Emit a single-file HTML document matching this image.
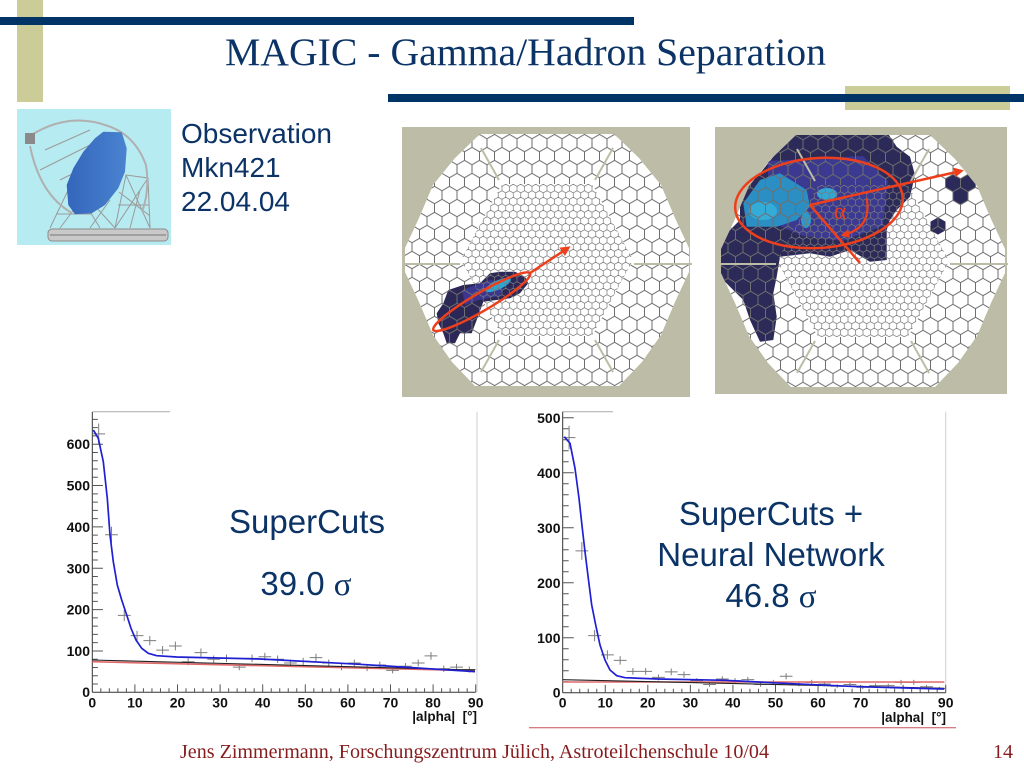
<!DOCTYPE html>
<html><head><meta charset="utf-8">
<style>html,body{margin:0;padding:0;background:#fff;width:1024px;height:768px;overflow:hidden}svg{display:block}</style>
</head><body>
<svg width="1024" height="768" viewBox="0 0 1024 768" xmlns="http://www.w3.org/2000/svg">
<defs>
<pattern id="hb" patternUnits="userSpaceOnUse" x="0" y="0" width="15" height="25.98">
<path d="M0,-8.66l7.5,4.33v8.66l-7.5,4.33l-7.5,-4.33v-8.66zM15,-8.66l7.5,4.33v8.66l-7.5,4.33l-7.5,-4.33v-8.66zM0,17.32l7.5,4.33v8.66l-7.5,4.33l-7.5,-4.33v-8.66zM15,17.32l7.5,4.33v8.66l-7.5,4.33l-7.5,-4.33v-8.66zM7.5,4.33l7.5,4.33v8.66l-7.5,4.33l-7.5,-4.33v-8.66z" fill="none" stroke="#6e6e6e" stroke-width="1"/>
</pattern>
<pattern id="hs" patternUnits="userSpaceOnUse" x="0" y="0" width="7.5" height="12.99">
<path d="M0,-4.33l3.75,2.165v4.33l-3.75,2.165l-3.75,-2.165v-4.33zM7.5,-4.33l3.75,2.165v4.33l-3.75,2.165l-3.75,-2.165v-4.33zM0,8.66l3.75,2.165v4.33l-3.75,2.165l-3.75,-2.165v-4.33zM7.5,8.66l3.75,2.165v4.33l-3.75,2.165l-3.75,-2.165v-4.33zM3.75,2.165l3.75,2.165v4.33l-3.75,2.165l-3.75,-2.165v-4.33z" fill="none" stroke="#7a7a7a" stroke-width="0.7"/>
</pattern>
<clipPath id="co"><polygon points="-67,-126 67,-126 92,-102 114,-75 128,-42 142,-12 142,12 128,42 114,75 95,102 72,126 -72,126 -95,102 -114,75 -128,42 -142,12 -142,-12 -128,-42 -114,-75 -92,-102"/></clipPath>
<marker id="ah" viewBox="0 0 10 10" refX="7" refY="5" markerWidth="4" markerHeight="4" orient="auto" markerUnits="strokeWidth"><path d="M0,0L10,5L0,10z" fill="#ee3f1c"/></marker>
<linearGradient id="dish" x1="0" y1="0" x2="1" y2="0"><stop offset="0" stop-color="#3466bb"/><stop offset="1" stop-color="#4a82d0"/></linearGradient>
</defs>

<!-- header decorations -->
<rect x="17" y="0" width="26" height="102" fill="#cccc99"/>
<rect x="0" y="17" width="634" height="8" fill="#003366"/>
<rect x="845" y="86" width="165" height="24" fill="#cccc99"/>
<rect x="388" y="94" width="636" height="8" fill="#003366"/>
<text x="225" y="65" font-family="Liberation Serif, serif" font-size="39" fill="#0b3366" textLength="601" lengthAdjust="spacingAndGlyphs">MAGIC - Gamma/Hadron Separation</text>

<!-- telescope -->
<rect x="17" y="109" width="154" height="136" fill="#b6ebf1"/>
<g fill="none" stroke="#9a9a9a" stroke-width="1">
<path d="M50,228L72,182L100,228M60,228L85,195L115,228M72,182L85,195M56,214L92,214M115,228L126,175L148,178L150,228M115,228L148,178M126,175L150,228M118,205L149,205M119,192L150,216M45,150L90,130M40,170L100,140M60,180L120,150M90,228L110,200M130,228L140,190"/>
<path d="M33,134Q70,112 108,126Q135,135 146,165Q150,190 142,212" stroke="#b0b0b0" stroke-width="2"/>
<path d="M30,146Q40,195 72,213" stroke="#b0b0b0" stroke-width="2"/>
</g>
<polygon points="103.3,131.7 121.7,132.3 126.7,148.3 125,171.7 118.3,188.3 105,205 91.7,213.3 75,214.3 68.3,205 66.7,185 73.3,168.3 83.3,151.7 95,138.3" fill="url(#dish)"/>
<rect x="25" y="133" width="10" height="11" fill="#8a8a8a"/>
<rect x="48" y="229" width="120" height="12" rx="4" fill="#c9c9c9" stroke="#8a8a8a"/>
<path d="M50,235H166" stroke="#777" stroke-width="1"/>

<text font-family="Liberation Sans, sans-serif" font-size="28" fill="#0b3366"><tspan x="181" y="143">Observation</tspan><tspan x="181" y="177">Mkn421</tspan><tspan x="181" y="211">22.04.04</tspan></text>

<!-- camera 1 -->
<rect x="402" y="127" width="288" height="270" fill="#bdbca6"/>
<g transform="translate(547,260)">
<polygon points="-67,-126 67,-126 92,-102 114,-75 128,-42 142,-12 142,12 128,42 114,75 95,102 72,126 -72,126 -95,102 -114,75 -128,42 -142,12 -142,-12 -128,-42 -114,-75 -92,-102" fill="#fff"/>
<g clip-path="url(#co)">
<polygon points="-98.7,30 -83.7,25 -67,23.3 -57,13.3 -47,11.7 -32,11.7 -22,16.7 -18.7,23.3 -27,33.3 -37,38.3 -50.3,40 -63.7,41.7 -70.3,60 -75.3,73.3 -87,73.3 -92,83.3 -100.3,83.3 -103.7,73.3 -108.7,63.3 -110.3,53.3 -103.7,43.3" fill="#2b2857"/>
<polygon points="-85,30 -57,20 -42,22 -47,36 -69,40 -82,45" fill="#3b3791"/>
<ellipse cx="-49" cy="25" rx="14" ry="4.5" transform="rotate(-25 -49 25)" fill="#2ea6d4"/>
</g>
<path d="M-67,-126L67,-126L92,-102L114,-75L128,-42L142,-12L142,12L128,42L114,75L95,102L72,126L-72,126L-95,102L-114,75L-128,42L-142,12L-142,-12L-128,-42L-114,-75L-92,-102ZM-45,-76L45,-76L86,0L45,76L-45,76L-86,0Z" fill="url(#hb)" fill-rule="evenodd"/>
<polygon points="-45,-76 45,-76 86,0 45,76 -45,76 -86,0" fill="url(#hs)"/>
<path d="M-87,4H-145M87,4H145M-48,-80L-66,-112M48,-80L66,-112M-48,80L-66,112M48,80L66,112" stroke="#bdbca6" stroke-width="2" fill="none"/>
</g>
<ellipse cx="481.7" cy="301.7" rx="56" ry="9" transform="rotate(-30.4 481.7 301.7)" fill="none" stroke="#ee3f1c" stroke-width="2.5"/>
<path d="M530,273L568,248" stroke="#ee3f1c" stroke-width="2.5" marker-end="url(#ah)"/>

<!-- camera 2 -->
<rect x="715" y="127" width="292" height="267" fill="#bdbca6"/>
<g transform="translate(863,261)">
<polygon points="-67,-126 67,-126 92,-102 114,-75 128,-42 142,-12 142,12 128,42 114,75 95,102 72,126 -72,126 -95,102 -114,75 -128,42 -142,12 -142,-12 -128,-42 -114,-75 -92,-102" fill="#fff"/>
<g clip-path="url(#co)">
<polygon points="-67,-129.3 23.7,-129.3 33.7,-114.3 47,-104.3 52,-86 47,-64.3 33.7,-51 27,-41 23.7,-31 23.7,-1 7,0.7 -13,-11 -33,-4.3 -53,-7.7 -83,-4.3 -86.3,15.7 -89.7,32.3 -86.3,55.7 -89.7,79 -103,80.7 -113,59 -119.7,39 -133,25.7 -143,15.7 -143,-21 -133,-31 -123,-41 -123,-74.3 -103,-87.7 -89.7,-104.3 -81.3,-116" fill="#2c2a58"/>
<polygon points="-95,-100 0,-105 25,-80 20,-35 -20,-20 -60,-25 -95,-40" fill="#3b3990"/>
<polygon points="-119.7,-57.7 -103,-81 -83,-87.7 -56.3,-71 -53,-54.3 -66.3,-41 -86.3,-34.3 -116.3,-34.3" fill="#2b8fc4"/>
<ellipse cx="-100" cy="-50" rx="14" ry="9" fill="#35acd8"/>
<ellipse cx="-36" cy="-67" rx="10" ry="6" fill="#33a6d2"/>
<ellipse cx="-57" cy="-41" rx="5" ry="8" fill="#2f98c8"/>
<path d="M90,-86.66l7.5,4.33v8.66l-7.5,4.33l-7.5,-4.33v-8.66zM105,-86.66l7.5,4.33v8.66l-7.5,4.33l-7.5,-4.33v-8.66zM97.5,-73.66l7.5,4.33v8.66l-7.5,4.33l-7.5,-4.33v-8.66zM75,-43.66l7.5,4.33v8.66l-7.5,4.33l-7.5,-4.33v-8.66z" fill="#2c2a58"/>
</g>
<path d="M-67,-126L67,-126L92,-102L114,-75L128,-42L142,-12L142,12L128,42L114,75L95,102L72,126L-72,126L-95,102L-114,75L-128,42L-142,12L-142,-12L-128,-42L-114,-75L-92,-102ZM-45,-76L45,-76L86,0L45,76L-45,76L-86,0Z" fill="url(#hb)" fill-rule="evenodd"/>
<polygon points="-45,-76 45,-76 86,0 45,76 -45,76 -86,0" fill="url(#hs)"/>
<path d="M-87,3H-145M87,3H145M-48,-80L-66,-112M48,-80L66,-112M-48,80L-66,112M48,80L66,112" stroke="#bdbca6" stroke-width="2" fill="none"/>
</g>
<ellipse cx="819" cy="203" rx="84" ry="45" transform="rotate(-4 819 203)" fill="none" stroke="#ee3f1c" stroke-width="2.5"/>
<path d="M810,205L961,171" stroke="#ee3f1c" stroke-width="2.5" marker-end="url(#ah)"/>
<path d="M810,205L860,263" stroke="#ee3f1c" stroke-width="2.5"/>
<path d="M866.7,198.3Q872,228 843,235" fill="none" stroke="#ee3f1c" stroke-width="2.2" marker-end="url(#ah)"/>
<text x="840" y="219" text-anchor="middle" font-family="Liberation Serif, serif" font-size="24" fill="#ee3f1c">α</text>

<!-- plot 1 -->
<path d="M92.3,411.7H170" stroke="#aaa" stroke-width="1"/>
<path d="M477,411.7V692.3" stroke="#cfcfcf" stroke-width="1"/>
<g transform="translate(92.3,692.3) scale(4.26,-0.4135)" fill="none">
<path vector-effect="non-scaling-stroke" stroke="#333" stroke-width="1" d="M0,0V678M0,0H90"/>
<path vector-effect="non-scaling-stroke" stroke="#555" stroke-width="1" d="M0,100h2.5M0,200h2.5M0,300h2.5M0,400h2.5M0,500h2.5M0,600h2.5M0,20h1.3M0,40h1.3M0,60h1.3M0,80h1.3M0,120h1.3M0,140h1.3M0,160h1.3M0,180h1.3M0,220h1.3M0,240h1.3M0,260h1.3M0,280h1.3M0,320h1.3M0,340h1.3M0,360h1.3M0,380h1.3M0,420h1.3M0,440h1.3M0,460h1.3M0,480h1.3M0,520h1.3M0,540h1.3M0,560h1.3M0,580h1.3M0,620h1.3M0,640h1.3M0,660h1.3M10,0v19.3M20,0v19.3M30,0v19.3M40,0v19.3M50,0v19.3M60,0v19.3M70,0v19.3M80,0v19.3M90,0v19.3M2,0v9.7M4,0v9.7M6,0v9.7M8,0v9.7M12,0v9.7M14,0v9.7M16,0v9.7M18,0v9.7M22,0v9.7M24,0v9.7M26,0v9.7M28,0v9.7M32,0v9.7M34,0v9.7M36,0v9.7M38,0v9.7M42,0v9.7M44,0v9.7M46,0v9.7M48,0v9.7M52,0v9.7M54,0v9.7M56,0v9.7M58,0v9.7M62,0v9.7M64,0v9.7M66,0v9.7M68,0v9.7M72,0v9.7M74,0v9.7M76,0v9.7M78,0v9.7M82,0v9.7M84,0v9.7M86,0v9.7M88,0v9.7"/>
<path vector-effect="non-scaling-stroke" stroke="#7c7c7c" stroke-width="1" d="M0,625h3M1.5,600V650M3,381h3M4.5,361.5V400.5M6,186h3M7.5,172.4V199.6M9,137h3M10.5,125.3V148.7M12,125h3M13.5,113.8V136.2M15,102h3M16.5,91.9V112.1M18,112h3M19.5,101.4V122.6M21,74h3M22.5,65.4V82.6M24,96h3M25.5,86.2V105.8M27,80h3M28.5,71.1V88.9M30,82h3M31.5,72.9V91.1M33,61h3M34.5,53.2V68.8M36,82h3M37.5,72.9V91.1M39,86h3M40.5,76.7V95.3M42,80h3M43.5,71.1V88.9M45,71h3M46.5,62.6V79.4M48,75h3M49.5,66.3V83.7M51,84h3M52.5,74.8V93.2M54,71h3M55.5,62.6V79.4M57,61h3M58.5,53.2V68.8M60,71h3M61.5,62.6V79.4M63,59h3M64.5,51.3V66.7M66,66h3M67.5,57.9V74.1M69,53h3M70.5,45.7V60.3M72,63h3M73.5,55.1V70.9M75,71h3M76.5,62.6V79.4M78,88h3M79.5,78.6V97.4M81,57h3M82.5,49.5V64.5M84,61h3M85.5,53.2V68.8M87,55h3M88.5,47.6V62.4"/>
</g>
<path d="M92.3,661.7L475,670.7" stroke="#e06868" stroke-width="1.6" fill="none"/>
<path d="M92.3,660L475,670" stroke="#222" stroke-width="1.1" fill="none"/>
<polyline points="93.3,430 98.3,438.3 103.3,461.7 107.3,498.3 110,535 113.3,561.7 117.3,585 121.7,600 126.7,615 131,628.3 136,640 141.7,648.3 148.3,653.3 156.7,655.7 176.7,657 260,659 360,664.3 475,671.7" fill="none" stroke="#1f1fd4" stroke-width="1.7" stroke-linejoin="round"/>
<g font-family="Liberation Sans, sans-serif" font-size="14" font-weight="bold" fill="#111">
<g text-anchor="end"><text x="90" y="697">0</text><text x="90" y="656">100</text><text x="90" y="614.6">200</text><text x="90" y="573.3">300</text><text x="90" y="531.9">400</text><text x="90" y="490.6">500</text><text x="90" y="449.2">600</text></g>
<g text-anchor="middle"><text x="92.3" y="707.5">0</text><text x="134.9" y="707.5">10</text><text x="177.5" y="707.5">20</text><text x="220.1" y="707.5">30</text><text x="262.7" y="707.5">40</text><text x="305.3" y="707.5">50</text><text x="347.9" y="707.5">60</text><text x="390.5" y="707.5">70</text><text x="433.1" y="707.5">80</text><text x="475.7" y="707.5">90</text></g>
<text x="477" y="721" text-anchor="end" font-size="13.5">|alpha|&#160;&#160;[°]</text>
</g>
<g font-family="Liberation Sans, sans-serif" font-size="33" fill="#0b3366" text-anchor="middle">
<text x="307" y="533">SuperCuts</text>
<text x="306" y="595">39.0 <tspan font-family="Liberation Serif, serif">σ</tspan></text>
</g>

<!-- plot 2 -->
<path d="M562.7,411.7H613" stroke="#aaa" stroke-width="1"/>
<path d="M945.7,411.7V692.8" stroke="#cfcfcf" stroke-width="1"/>
<g transform="translate(562.7,692.8) scale(4.2556,-0.55)" fill="none">
<path vector-effect="non-scaling-stroke" stroke="#333" stroke-width="1" d="M0,0V511M0,0H90"/>
<path vector-effect="non-scaling-stroke" stroke="#555" stroke-width="1" d="M0,100h2.6M0,200h2.6M0,300h2.6M0,400h2.6M0,500h2.6M0,20h1.4M0,40h1.4M0,60h1.4M0,80h1.4M0,120h1.4M0,140h1.4M0,160h1.4M0,180h1.4M0,220h1.4M0,240h1.4M0,260h1.4M0,280h1.4M0,320h1.4M0,340h1.4M0,360h1.4M0,380h1.4M0,420h1.4M0,440h1.4M0,460h1.4M0,480h1.4M10,0v14.5M20,0v14.5M30,0v14.5M40,0v14.5M50,0v14.5M60,0v14.5M70,0v14.5M80,0v14.5M90,0v14.5M2,0v7.3M4,0v7.3M6,0v7.3M8,0v7.3M12,0v7.3M14,0v7.3M16,0v7.3M18,0v7.3M22,0v7.3M24,0v7.3M26,0v7.3M28,0v7.3M32,0v7.3M34,0v7.3M36,0v7.3M38,0v7.3M42,0v7.3M44,0v7.3M46,0v7.3M48,0v7.3M52,0v7.3M54,0v7.3M56,0v7.3M58,0v7.3M62,0v7.3M64,0v7.3M66,0v7.3M68,0v7.3M72,0v7.3M74,0v7.3M76,0v7.3M78,0v7.3M82,0v7.3M84,0v7.3M86,0v7.3M88,0v7.3"/>
<path vector-effect="non-scaling-stroke" stroke="#7c7c7c" stroke-width="1" d="M0,464h3M1.5,442.5V485.5M3,258h3M4.5,241.9V274.1M6,104h3M7.5,93.8V114.2M9,69h3M10.5,60.7V77.3M12,59h3M13.5,51.3V66.7M15,39h3M16.5,32.8V45.2M18,39h3M19.5,32.8V45.2M21,28h3M22.5,22.7V33.3M24,38h3M25.5,31.8V44.2M27,33h3M28.5,27.3V38.7M30,22h3M31.5,17.3V26.7M33,15h3M34.5,11.1V18.9M36,25h3M37.5,20V30M39,22h3M40.5,17.3V26.7M42,24h3M43.5,19.1V28.9M45,15h3M46.5,11.1V18.9M48,19h3M49.5,14.6V23.4M51,30h3M52.5,24.5V35.5M54,16h3M55.5,12V20M57,19h3M58.5,14.6V23.4M60,16h3M61.5,12V20M63,12h3M64.5,8.5V15.5M66,15h3M67.5,11.1V18.9M69,10h3M70.5,6.8V13.2M72,13h3M73.5,9.4V16.6M75,13h3M76.5,9.4V16.6M78,19h3M79.5,14.6V23.4M81,19h3M82.5,14.6V23.4M84,11h3M85.5,7.7V14.3M87,8h3M88.5,5.2V10.8"/>
</g>
<path d="M562.7,682L944.3,682" stroke="#e06868" stroke-width="1.4" fill="none"/>
<path d="M562.7,679.7L944.3,688.3" stroke="#222" stroke-width="1.1" fill="none"/>
<polyline points="564.3,436.7 570,443.3 575,468.3 579,498.3 582.3,528.3 585,551.7 588.3,578.3 591.7,605 595.7,625 600,645 605,660 610,670 616.7,675.7 625,677.7 658.3,679 725,680.3 791.7,683.7 858.3,686.7 944.3,689" fill="none" stroke="#1f1fd4" stroke-width="1.7" stroke-linejoin="round"/>
<g font-family="Liberation Sans, sans-serif" font-size="14" font-weight="bold" fill="#111">
<g text-anchor="end"><text x="560.5" y="697.5">0</text><text x="560.5" y="642.8">100</text><text x="560.5" y="587.8">200</text><text x="560.5" y="532.8">300</text><text x="560.5" y="477.8">400</text><text x="560.5" y="422.8">500</text></g>
<g text-anchor="middle"><text x="562.7" y="707.5">0</text><text x="605.3" y="707.5">10</text><text x="647.8" y="707.5">20</text><text x="690.4" y="707.5">30</text><text x="732.9" y="707.5">40</text><text x="775.5" y="707.5">50</text><text x="818" y="707.5">60</text><text x="860.6" y="707.5">70</text><text x="903.1" y="707.5">80</text><text x="945.7" y="707.5">90</text></g>
<text x="946" y="722" text-anchor="end" font-size="13.5">|alpha|&#160;&#160;[°]</text>
</g>
<g font-family="Liberation Sans, sans-serif" font-size="33" fill="#0b3366" text-anchor="middle">
<text x="771" y="525">SuperCuts +</text>
<text x="771" y="566">Neural Network</text>
<text x="771" y="607">46.8 <tspan font-family="Liberation Serif, serif">σ</tspan></text>
</g>

<!-- footer -->
<path d="M529,727.7H956" stroke="#c8505a" stroke-width="1"/>
<text x="180" y="758" font-family="Liberation Serif, serif" font-size="20" fill="#861c1e" textLength="589" lengthAdjust="spacingAndGlyphs">Jens Zimmermann, Forschungszentrum Jülich, Astroteilchenschule 10/04</text>
<text x="993" y="758" font-family="Liberation Serif, serif" font-size="20" fill="#861c1e">14</text>
</svg>
</body></html>
